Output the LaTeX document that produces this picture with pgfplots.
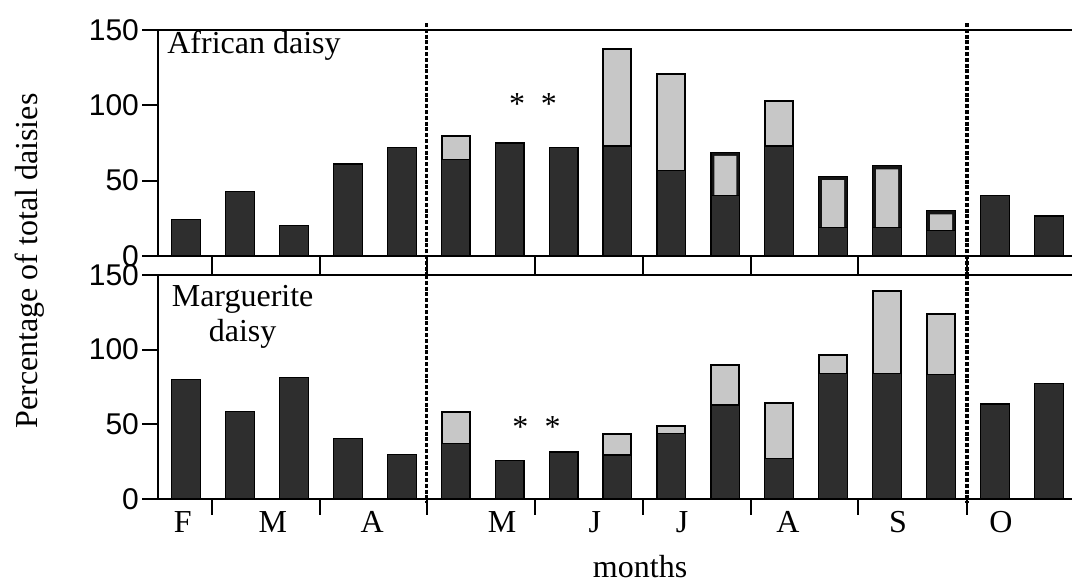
\documentclass[border=0pt]{standalone}
\usepackage{pgfplots}
\pgfplotsset{compat=1.18}
\usepackage{pgfplotstable}
\usepackage{fontspec}
\setmainfont{Liberation Serif}
\newfontfamily\ticksans{Liberation Sans}
\newcommand\bigtxt{\fontsize{16pt}{19pt}\selectfont}
\definecolor{darkbar}{gray}{0.18}
\definecolor{lightbar}{gray}{0.78}

% African daisy
\pgfplotstableread{
x y
0 24
1 43
2 20
3 61
4 72
5 64
6 75
7 72
8 73
9 57
10 40
11 73
12 19
13 19
14 17
15 40
16 26.5
}\topdark
\pgfplotstableread{
x y
5 79.5
8 137.5
9 121
11 103
}\toplight
% framed bars: outer total and inner light top
\pgfplotstableread{
x y
10 68.6
12 52.6
13 60
14 30
}\topframe
\pgfplotstableread{
x y
10 66.4
12 50.4
13 57.5
14 27.6
}\topinner
% Marguerite daisy
\pgfplotstableread{
x y
0 80
1 58.5
2 81.5
3 40.6
4 30
5 37
6 26
7 31.5
8 29.5
9 44
10 63
11 27
12 84
13 84
14 83.5
15 63.6
16 77.5
}\botdark
\pgfplotstableread{
x y
5 58
8 43.5
9 49.2
10 89.5
11 64.5
12 96.5
13 139.5
14 124
}\botlight

\tikzset{sep/.style={black, line width=1.6pt, dash pattern=on 2pt off 0.9pt},
  mlab/.style={anchor=base, font=\bigtxt, inner sep=0pt, yshift=-16.5pt}}

\begin{document}
\begin{tikzpicture}
\path[use as bounding box] (0,0) rectangle (536pt,-291.5pt);
\pgfplotsset{
  panel/.style={
    scale only axis, width=461.9pt,
    xmin=-0.528, xmax=16.6, ymin=0, ymax=150,
    ytick={0,50,100,150},
    xtick={0.48,2.48,4.46,6.47,8.47,10.47,12.46,14.48,16.5},
    xticklabels={}, tick align=outside, xtick pos=left, ytick pos=left,
    axis line style={line width=1pt, black},
    tick style={line width=1pt, black},
    /pgf/number format/assume math mode=true,
    yticklabel style={font=\ticksans\fontsize{15pt}{15pt}\selectfont, xshift=-1.5pt},
    ytick style={/pgfplots/major tick length=7.5pt},
    clip=false,
  },
  lightb/.style={ybar, bar shift=0pt, fill=lightbar, draw=black, line width=1pt, bar width=14pt},
  innerb/.style={ybar, bar shift=0pt, fill=lightbar, draw=none, bar width=11pt},
  darkb/.style={ybar, bar shift=0pt, fill=darkbar, draw=black, line width=0.6pt, bar width=14.4pt},
  frameb/.style={ybar, bar shift=0pt, fill=black!92, draw=black, line width=0.6pt, bar width=14.4pt},
}

% top panel
\begin{axis}[panel, height=113pt, at={(78.75pt,-15pt)}, anchor=north west,
  xtick style={/pgfplots/major tick length=9.5pt}]
\addplot[lightb] table[x=x,y=y]{\toplight};
\addplot[frameb] table[x=x,y=y]{\topframe};
\addplot[innerb] table[x=x,y=y]{\topinner};
\addplot[darkb] table[x=x,y=y]{\topdark};
\draw[sep] (axis cs:4.46,154.6) -- (axis cs:4.46,-12.6);
\draw[sep] (axis cs:14.48,154.6) -- (axis cs:14.48,-12.6);
\node[anchor=base west, font=\bigtxt, inner sep=0pt] at (axis cs:-0.352,134.7) {African daisy};
\node[anchor=base, font=\bigtxt, inner sep=0pt] at (axis cs:6.14,94.2) {*};
\node[anchor=base, font=\bigtxt, inner sep=0pt] at (axis cs:6.73,94.2) {*};
\end{axis}

% bottom panel
\begin{axis}[panel, height=112pt, at={(78.75pt,-137.5pt)}, anchor=north west,
  xtick style={/pgfplots/major tick length=8pt}]
\addplot[lightb] table[x=x,y=y]{\botlight};
\addplot[darkb] table[x=x,y=y]{\botdark};
\draw[sep] (axis cs:4.46,150) -- (axis cs:4.46,-3);
\draw[sep] (axis cs:14.48,150) -- (axis cs:14.48,-3);
\node[anchor=base, font=\bigtxt, inner sep=0pt] at (axis cs:1.05,128.6) {Marguerite};
\node[anchor=base, font=\bigtxt, inner sep=0pt] at (axis cs:1.05,105.2) {daisy};
\node[anchor=base, font=\bigtxt, inner sep=0pt] at (axis cs:6.2,41.1) {*};
\node[anchor=base, font=\bigtxt, inner sep=0pt] at (axis cs:6.8,41.1) {*};
\node[mlab] at (axis cs:-0.06,0) {F};
\node[mlab] at (axis cs:1.61,0) {M};
\node[mlab] at (axis cs:3.45,0) {A};
\node[mlab] at (axis cs:5.86,0) {M};
\node[mlab] at (axis cs:7.58,0) {J};
\node[mlab] at (axis cs:9.2,0) {J};
\node[mlab] at (axis cs:11.16,0) {A};
\node[mlab] at (axis cs:13.2,0) {S};
\node[mlab] at (axis cs:15.11,0) {O};
\node[anchor=base, font=\bigtxt, inner sep=0pt, yshift=-39pt] at (axis cs:8.42,0) {months};
\end{axis}

\node[rotate=90, font=\bigtxt] at (15pt,-130.5pt) {Percentage of total daisies};
\end{tikzpicture}
\end{document}
